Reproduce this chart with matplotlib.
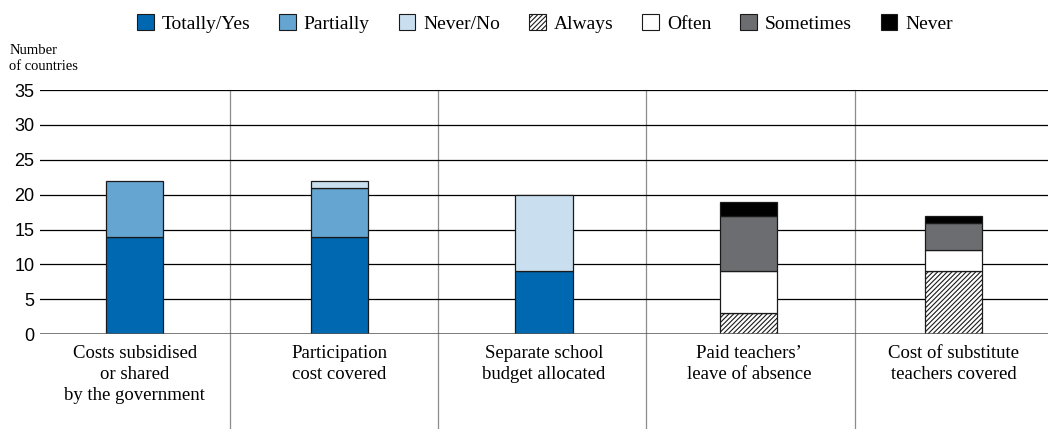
import matplotlib.pyplot as plt
from matplotlib.patches import Patch
from matplotlib.transforms import blended_transform_factory
import numpy as np

# Number of countries per answer, for each support measure
categories = ['Costs subsidised\nor shared\nby the government',
              'Participation\ncost covered',
              'Separate school\nbudget allocated',
              'Paid teachers\u2019\nleave of absence',
              'Cost of substitute\nteachers covered']
totally_yes = [14, 14, 9, 0, 0]
partially = [8, 7, 0, 0, 0]
never_no = [0, 1, 11, 0, 0]
always = [0, 0, 0, 3, 9]
often = [0, 0, 0, 6, 3]
sometimes = [0, 0, 0, 8, 4]
never = [0, 0, 0, 2, 1]

series = [
    ('Totally/Yes', totally_yes, '#0068b1', None),
    ('Partially', partially, '#65a5d1', None),
    ('Never/No', never_no, '#c9dfef', None),
    ('Always', always, 'white', '///////'),
    ('Often', often, 'white', None),
    ('Sometimes', sometimes, '#6c6d70', None),
    ('Never', never, 'black', None),
]

serif = 'Liberation Serif'
plt.rcParams['hatch.linewidth'] = 0.8

fig = plt.figure(figsize=(10.48, 4.29), dpi=100)
ax = fig.add_axes([0.038, 0.221, 0.962, 0.569])

x = np.arange(len(categories))
bottom = np.zeros(len(categories))
for name, vals, color, hatch in series:
    vals = np.array(vals, dtype=float)
    mask = vals > 0
    ax.bar(x[mask], vals[mask], 0.28, bottom=bottom[mask], color=color,
           hatch=hatch, edgecolor='#1a1a1a', linewidth=0.9, zorder=3)
    bottom += vals

ax.set_ylim(0, 35)
ax.set_xlim(-0.464, 4.462)
ax.set_yticks(range(0, 36, 5))
for v in range(5, 36, 5):
    ax.axhline(v, color='black', linewidth=0.9, zorder=1)
ax.axhline(0, color='#555555', linewidth=1.8, zorder=4)

# group separators run down through the label area
trans = blended_transform_factory(ax.transData, ax.transAxes)
for sx in [0.464, 1.481, 2.498, 3.519]:
    ax.plot([sx, sx], [-0.40, 1.0], transform=trans, color='#8c8c8c',
            linewidth=0.9, clip_on=False, zorder=0)

for s in ax.spines.values():
    s.set_visible(False)
ax.tick_params(axis='y', length=0, labelsize=13, pad=4)
ax.tick_params(axis='x', length=0)
ax.set_xticks(x)
ax.set_xticklabels(categories, family=serif, fontsize=13.5,
                   linespacing=1.3, va='top')
ax.tick_params(axis='x', pad=8)
for lbl in ax.get_yticklabels():
    lbl.set_family('Liberation Sans')

fig.text(0.009, 0.83, 'Number\nof countries', family=serif, fontsize=10.5,
         linespacing=1.3, va='bottom', ha='left')

handles = [Patch(facecolor=c, edgecolor='#1a1a1a', hatch=h, linewidth=0.8, label=n)
           for n, _, c, h in series]
fig.legend(handles=handles, loc='center', bbox_to_anchor=(0.52, 0.945), ncol=7,
           frameon=False, prop={'family': serif, 'size': 14},
           handlelength=0.85, handleheight=0.85, handletextpad=0.4,
           columnspacing=1.5)

fig.savefig('out.png', dpi=100)
